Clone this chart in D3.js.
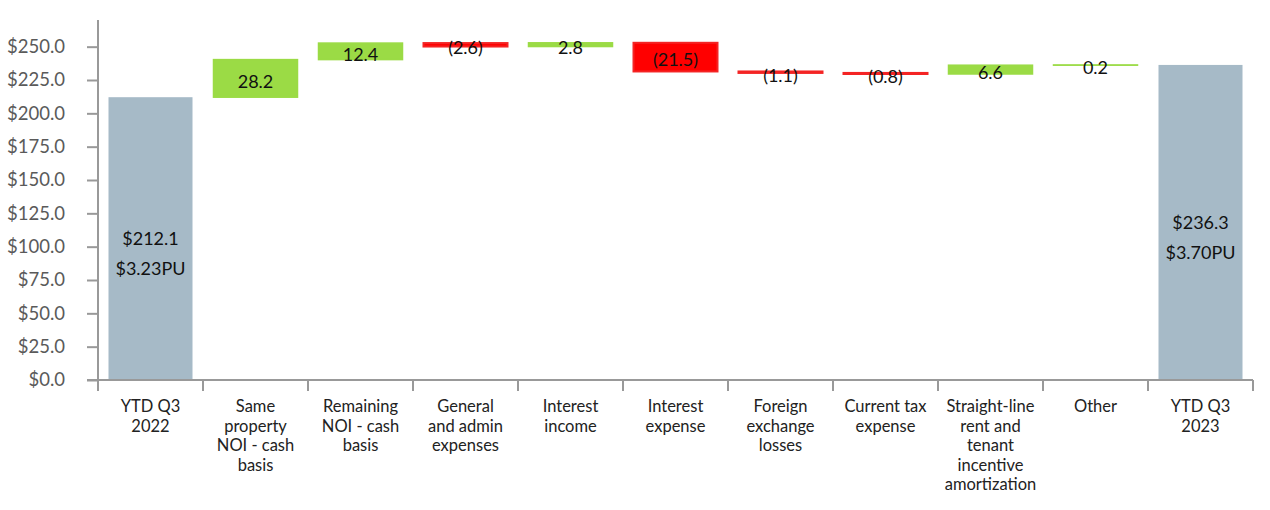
<!DOCTYPE html>
<html>
<head>
<meta charset="utf-8">
<script src="https://cdn.jsdelivr.net/npm/d3@7/dist/d3.min.js"></script>
<style>
  html, body { margin: 0; padding: 0; background: #fff; }
  svg { display: block; font-family: Lato, "Open Sans", sans-serif; }
</style>
</head>
<body>
<svg id="chart" width="1270" height="510"></svg>
<script>
const categories = [
  ["YTD Q3", "2022"],
  ["Same", "property", "NOI - cash", "basis"],
  ["Remaining", "NOI - cash", "basis"],
  ["General", "and admin", "expenses"],
  ["Interest", "income"],
  ["Interest", "expense"],
  ["Foreign", "exchange", "losses"],
  ["Current tax", "expense"],
  ["Straight-line", "rent and", "tenant", "incentive", "amortization"],
  ["Other"],
  ["YTD Q3", "2023"]
];
// kind: total or change
const kinds = ["total","change","change","change","change","change","change","change","change","change","total"];
const values = [212.1, 28.2, 12.4, -2.6, 2.8, -21.5, -1.1, -0.8, 6.6, 0.2, 236.3];
const valueLabels = [["$212.1","$3.23PU"], ["28.2"], ["12.4"], ["(2.6)"], ["2.8"], ["(21.5)"], ["(1.1)"], ["(0.8)"], ["6.6"], ["0.2"], ["$236.3","$3.70PU"]];
const yTicks = [0, 25, 50, 75, 100, 125, 150, 175, 200, 225, 250];

const colors = { total: "#A6BAC7", up: "#9BDB45", down: "#FF0000" };
const strokes = { total: "none", up: "#9BDB45", down: "#F42424" };

const svg = d3.select("#chart");
const x = d3.scaleBand().domain(d3.range(categories.length)).range([98, 1253]).paddingInner(0.2).paddingOuter(0.1);
const y = d3.scaleLinear().domain([0, 270]).range([380, 20]);

// compute waterfall segments
let running = 0;
const segs = values.map((v, i) => {
  let y0, y1, type;
  if (kinds[i] === "total") { y0 = 0; y1 = v; running = v; type = "total"; }
  else { y0 = running; y1 = running + v; running = y1; type = v >= 0 ? "up" : "down"; }
  return { i, y0, y1, type };
});

// bars
svg.append("g").selectAll("rect").data(segs).join("rect")
  .attr("x", d => x(d.i))
  .attr("width", x.bandwidth())
  .attr("y", d => y(Math.max(d.y0, d.y1)))
  .attr("height", d => Math.abs(y(d.y0) - y(d.y1)))
  .attr("fill", d => colors[d.type])
  .attr("stroke", d => strokes[d.type])
  .attr("stroke-width", d => d.type === "down" ? 2 : 1.5);

// value labels
const lab = svg.append("g").attr("font-size", 18).attr("fill", "#111").attr("text-anchor", "middle");
segs.forEach(d => {
  const cx = x(d.i) + x.bandwidth() / 2;
  const mid = (y(d.y0) + y(d.y1)) / 2;
  const lines = valueLabels[d.i];
  if (d.type === "total") {
    lines.forEach((t, k) => {
      lab.append("text").attr("x", cx).attr("y", mid + k * 30).attr("dy", "0.35em").text(t);
    });
  } else {
    lab.append("text").attr("x", cx).attr("y", mid + 3).attr("dy", "0.35em").text(lines[0]);
  }
});

// y axis
const yAxis = svg.append("g").attr("transform", "translate(98,0)")
  .call(d3.axisLeft(y).tickValues(yTicks).tickFormat(d => "$" + d.toFixed(1)).tickSize(11).tickPadding(22));
yAxis.select(".domain").attr("stroke", "#999").attr("stroke-width", 2).attr("d", "M0,20V380");
yAxis.selectAll(".tick line").attr("stroke", "#999").attr("stroke-width", 2);
yAxis.selectAll(".tick text").attr("fill", "#5a5a5a").attr("font-size", 18.5).attr("font-family", "Lato, 'Open Sans', sans-serif");

// x axis
const xg = svg.append("g");
xg.append("line").attr("x1", 87).attr("x2", 1253).attr("y1", 380).attr("y2", 380).attr("stroke", "#999").attr("stroke-width", 2);
const bounds = d3.range(categories.length + 1).map(i => 98 + i * x.step());
xg.selectAll("line.tk").data(bounds).join("line").attr("class", "tk")
  .attr("x1", d => d).attr("x2", d => d).attr("y1", 380).attr("y2", 391)
  .attr("stroke", "#999").attr("stroke-width", 2);

const cl = svg.append("g").attr("font-size", 16.5).attr("fill", "#222").attr("text-anchor", "middle");
categories.forEach((lines, i) => {
  const cx = x(i) + x.bandwidth() / 2;
  const t = cl.append("text").attr("x", cx).attr("y", 412);
  lines.forEach((ln, k) => {
    t.append("tspan").attr("x", cx).attr("dy", k === 0 ? 0 : 19.5).text(ln);
  });
});
</script>
</body>
</html>
